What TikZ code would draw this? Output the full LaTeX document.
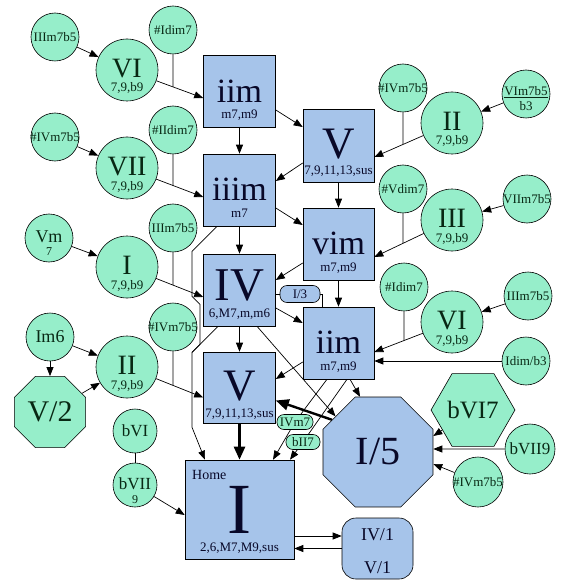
\documentclass[tikz,border=0pt]{standalone}
\usepackage{fontspec}
\setmainfont{Liberation Serif}
\usetikzlibrary{arrows.meta,shapes.geometric}
\pgfdeclarelayer{bg}
\pgfsetlayers{bg,main}
\newcommand{\FSZ}[1]{\fontsize{#1}{#1}\selectfont}
\definecolor{grn}{RGB}{150,238,202}
\definecolor{blu}{RGB}{166,196,234}
\definecolor{gtxt}{RGB}{8,40,20}
\definecolor{btxt}{RGB}{8,8,40}
\begin{document}
\begin{tikzpicture}[x=1pt,y=-1pt,
  gcs/.style={circle,draw=black,line width=0.6pt,fill=grn,inner sep=0pt,minimum size=48pt,text=gtxt,font=\FSZ{13}},
  gcb/.style={gcs,minimum size=62pt,font=\FSZ{28},text depth=2.5pt},
  bx/.style={rectangle,draw=black,line width=0.6pt,fill=blu,inner sep=0pt,minimum width=72pt,minimum height=72pt,text=btxt},
  lowc/.style={font=\FSZ{34},text depth=2pt},
  octa/.style={regular polygon,regular polygon sides=8,draw=black,line width=0.6pt,inner sep=0pt},
  hexa/.style={regular polygon,regular polygon sides=6,draw=black,line width=0.6pt,inner sep=0pt,fill=grn,text=gtxt},
  pill/.style={rectangle,rounded corners=7pt,draw=black,line width=0.6pt,inner sep=0pt,minimum height=16pt,font=\FSZ{13}},
  gsub/.style={inner sep=0pt,anchor=base,font=\FSZ{13},text=gtxt},
  bsub/.style={inner sep=0pt,anchor=base,font=\FSZ{13},text=btxt},
  arr/.style={-{Triangle[length=9pt,width=7pt]},line width=0.7pt},
  ln/.style={line width=0.7pt},
  thk/.style={-{Triangle[length=13pt,width=11pt]},line width=2.4pt}]
\useasboundingbox (0,0) rectangle (580,580);
\begin{pgfonlayer}{bg}
\fill[white] (0,0) rectangle (580,580);
\end{pgfonlayer}

% ---------- left column ----------
\node[gcs] (c1) at (55,37) {\makebox[0pt]{IIIm7b5}};
\node[gcs] (c2) at (173,30) {\makebox[0pt]{\#Idim7}};
\node[gcb] (n6) at (127,70) {VI};
\node[gsub] (n6s) at (127,92) {7,9,b9};

\node[gcs] (c3) at (55,137) {\makebox[0pt]{\#IVm7b5}};
\node[gcs] (c4) at (173,130) {\makebox[0pt]{\#IIdim7}};
\node[gcb] (n7) at (127,168) {VII};
\node[gsub] (n7s) at (127,190) {7,9,b9};

\node[gcs,font=\FSZ{18},text depth=2pt] (c5) at (49,238) {Vm};
\node[gsub,font=\FSZ{12}] (c5s) at (49,255) {7};
\node[gcs] (c6) at (173,228) {\makebox[0pt]{IIIm7b5}};
\node[gcb] (n1) at (127,267) {I};
\node[gsub] (n1s) at (127,289) {7,9,b9};

\node[gcs,font=\FSZ{18}] (c7) at (50,337) {Im6};
\node[gcs] (c8) at (173,327) {\makebox[0pt]{\#IVm7b5}};
\node[gcb] (n2) at (127,367) {II};
\node[gsub] (n2s) at (127,389) {7,9,b9};
\node[octa,fill=grn,text=gtxt,minimum size=77pt,font=\FSZ{30}] (v2) at (50,412) {V/2};

\node[gcs,minimum size=44pt,font=\FSZ{17}] (c9) at (135,431) {bVI};
\node[gcs,minimum size=44pt,font=\FSZ{17},text depth=2pt] (c10) at (135,485) {bVII};
\node[gsub,font=\FSZ{12}] (c10s) at (135,503) {9};

% ---------- right column ----------
\node[gcs] (r0) at (403,88) {\makebox[0pt]{\#IVm7b5}};
\node[gcs] (r1) at (526,94) {};
\node[gsub] (r1a) at (526,96) {\underline{VIm7b5}};
\node[gsub] (r1b) at (526,111) {b3};
\node[gcb] (r2) at (452,123) {II};
\node[gsub] (r2s) at (452,145) {7,9,b9};

\node[gcs] (r3) at (403,189) {\makebox[0pt]{\#Vdim7}};
\node[gcs] (r4) at (527,199) {\makebox[0pt]{VIIm7b5}};
\node[gcb] (r5) at (452,220) {III};
\node[gsub] (r5s) at (452,242) {7,9,b9};

\node[gcs] (r6) at (404,287) {\makebox[0pt]{\#Idim7}};
\node[gcs] (r7) at (528,296) {\makebox[0pt]{IIIm7b5}};
\node[gcb] (r8) at (452,322) {VI};
\node[gsub] (r8s) at (452,344) {7,9,b9};
\node[gcs] (r9) at (526,361) {\makebox[0pt]{Idim/b3}};

\node[hexa,minimum size=71pt,font=\FSZ{25}] (r10) at (473,410) {bVI7};
\node[gcs,minimum size=50pt,font=\FSZ{17}] (r11) at (530,449) {\makebox[0pt]{bVII9}};
\node[gcs,minimum size=50pt] (r12) at (478,482) {\makebox[0pt]{\#IVm7b5}};

% ---------- boxes ----------
\node[bx,lowc,text depth=0pt] (b1) at (239.5,91) {iim};
\node[bsub] (b1s) at (239.5,119) {m7,m9};
\node[bx,minimum width=71pt,minimum height=73pt,font=\FSZ{45},text depth=4pt] (b2) at (338.5,145.5) {V};
\node[bsub] (b2s) at (338.5,175) {7,9,11,13,sus};
\node[bx,lowc] (b3) at (239.5,190) {iiim};
\node[bsub] (b3s) at (239.5,217) {m7};
\node[bx,minimum width=71pt,lowc] (b4) at (338.5,244) {vim};
\node[bsub] (b4s) at (338.5,271) {m7,m9};
\node[bx,font=\FSZ{47},text depth=9pt] (b5) at (239.5,290) {IV};
\node[bsub] (b5s) at (239.5,317.5) {6,M7,m,m6};
\node[bx,minimum width=71pt,lowc] (b6) at (338.5,343) {iim};
\node[bsub] (b6s) at (338.5,370) {m7,m9};
\node[bx,minimum height=71pt,font=\FSZ{45},text depth=4pt] (b7) at (239.5,387.5) {V};
\node[bsub] (b7s) at (239.5,417) {7,9,11,13,sus};

\node[bx,minimum width=109pt,minimum height=99pt,font=\FSZ{72}] (home) at (239.5,509.5) {I};
\node[bsub,anchor=base west,font=\FSZ{14}] (homet) at (192,479) {Home};
\node[bsub] (homes) at (239.5,551) {2,6,M7,M9,sus};

\node[octa,fill=blu,text=btxt,minimum size=119pt,font=\FSZ{40}] (i5) at (378,452) {I/5};

\node[bx,rounded corners=14pt,minimum width=71pt,minimum height=61pt] (iv1) at (377.5,548.5) {};
\node[bsub,font=\FSZ{18}] (iv1a) at (377.5,540) {IV/1};
\node[bsub,font=\FSZ{18}] (iv1b) at (377.5,573) {V/1};

\node[pill,fill=blu,text=btxt,minimum width=40pt,minimum height=17pt] (p1) at (300,294) {I/3};
\node[pill,fill=grn,text=gtxt,minimum width=36pt,minimum height=15pt] (p2) at (295,422) {IVm7};
\node[pill,fill=grn,text=gtxt,minimum width=34pt,minimum height=15pt] (p3) at (303,442) {bII7};

% ---------- connectors ----------
\begin{pgfonlayer}{bg}
\coordinate (e6) at ([yshift=-7pt]b1.west);
\coordinate (e7) at ([yshift=-7pt]b3.west);
\coordinate (e1) at ([yshift=-7pt]b5.west);
\coordinate (e2) at ([yshift=-10pt]b7.west);
\coordinate (f2) at ([yshift=-11.5pt]b2.east);
\coordinate (f5) at ([yshift=-13pt]b4.east);
\coordinate (f8) at ([yshift=-9pt]b6.east);

\draw[arr] (c1) -- (n6);
\draw[arr] (c3) -- (n7);
\draw[arr] (c5) -- (n1);
\draw[arr] (c7) -- (n2);
\draw[arr] (c7) -- (v2);
\draw[arr] (v2) -- (n2);

\draw[arr] (n6) -- (e6);
\draw[ln] (c2) -- (intersection of c2.center--c2.south and n6.center--e6);
\draw[arr] (n7) -- (e7);
\draw[ln] (c4) -- (intersection of c4.center--c4.south and n7.center--e7);
\draw[arr] (n1) -- (e1);
\draw[ln] (c6) -- (intersection of c6.center--c6.south and n1.center--e1);
\draw[arr] (n2) -- (e2);
\draw[ln] (c8) -- (intersection of c8.center--c8.south and n2.center--e2);
\draw[ln] (c9) -- (c10);
\draw[arr] (c10) -- ([yshift=-5.5pt]home.west);

\draw[arr] (r1) -- (r2);
\draw[arr] (r2) -- (f2);
\draw[ln] (r0) -- (intersection of r0.center--r0.south and r2.center--f2);
\draw[arr] (r4) -- (r5);
\draw[arr] (r5) -- (f5);
\draw[ln] (r3) -- (intersection of r3.center--r3.south and r5.center--f5);
\draw[arr] (r7) -- (r8);
\draw[arr] (r8) -- (f8);
\draw[ln] (r6) -- (intersection of r6.center--r6.south and r8.center--f8);
\draw[arr] (r9) -- ([yshift=-18pt]b6.east);
\draw[arr] (r10) -- ([yshift=16pt]i5.east);
\draw[arr] (r11) -- ([yshift=3pt]i5.east);
\draw[arr] (r12) -- ([yshift=-12pt]i5.east);

\draw[arr] ([yshift=-19pt]b1.east) -- ([yshift=18.5pt]b2.west);
\draw[arr] (b1) -- (b3);
\draw[arr] ([yshift=-17.5pt]b2.west) -- ([yshift=9pt]b3.east);
\draw[arr] (b2) -- (b4);
\draw[arr] (b3) -- (b5);
\draw[arr] ([yshift=-18pt]b3.east) -- ([yshift=19pt]b4.west);
\draw[arr] ([yshift=-19pt]b4.west) -- ([yshift=10pt]b5.east);
\draw[arr] (b4) -- (b6);
\draw[arr] ([yshift=-18pt]b5.east) -- ([yshift=20pt]b6.west);
\draw[ln] ([yshift=-4pt]b5.east) -- (p1);
\draw[ln] (p1.east) -| ([xshift=-16.5pt]b6.north);
\draw[arr] (b5) -- (b7);
\draw[arr] ([yshift=-19pt]b6.west) -- ([yshift=8.5pt]b7.east);
\draw[thk] (b7) -- (home);
\draw[thk] (i5.145) -- ([yshift=-13pt]b7.east);
\draw[arr] ([xshift=17.5pt]b5.south) -- (i5.140);
\draw[arr] ([xshift=11.5pt]b6.south) -- (i5.108);
\draw[ln] ([xshift=-11.5pt]b6.south) -- (p2);
\draw[arr] (p2) -- ([xshift=33.5pt]home.north);
\draw[ln] ([xshift=8.5pt]b6.south) -- (p3);
\draw[arr] (p3) -- ([xshift=50.5pt]home.north);
\draw[arr] ([xshift=-22.5pt]b3.south) -- ++(-25,25) -- ++(0,45) -- ++(8,8)
   -- ++(0,40) -- ++(-8,8) -- ++(0,75) -- ([xshift=-34.5pt]home.north);
\draw[ln] ([xshift=-21.5pt]b5.south) -- ++(-26,26);
\draw[arr] ([yshift=-26.5pt]home.east) -- ([yshift=12.5pt]iv1.west);
\draw[arr] (iv1.west) -- ([yshift=-39pt]home.east);
\end{pgfonlayer}
\end{tikzpicture}
\end{document}
